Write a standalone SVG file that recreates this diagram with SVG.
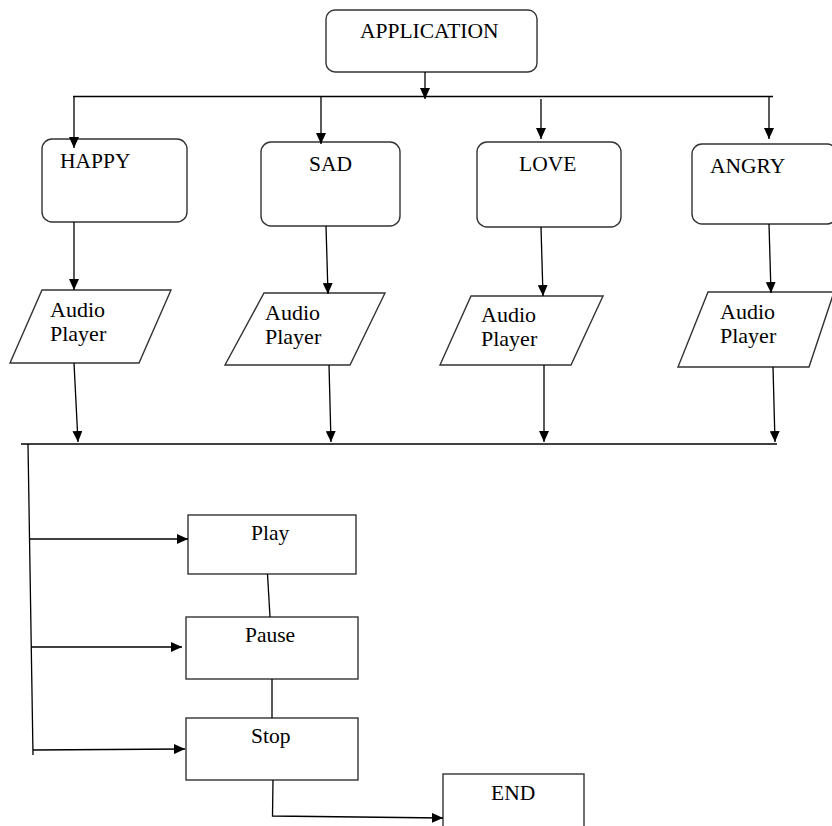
<svg xmlns="http://www.w3.org/2000/svg" width="832" height="826" viewBox="0 0 832 826">
<style>
.box{fill:#fff;stroke:#333;stroke-width:1.4}
.ln{fill:none;stroke:#000;stroke-width:1.3}
.arr{fill:none;stroke:#000;stroke-width:1.3;marker-end:url(#ah)}
.t{font-family:"Liberation Serif","Times New Roman",serif;font-size:21.5px;fill:#000}
.a{font-family:"Liberation Serif","Times New Roman",serif;font-size:22px;fill:#000}
</style>
<defs>
<marker id="ah" markerUnits="userSpaceOnUse" markerWidth="12" markerHeight="10" refX="11" refY="5" orient="auto">
<path d="M0,0 L11,5 L0,10 z" fill="#000"/>
</marker>
</defs>
<rect width="832" height="826" fill="#fff"/>
<g id="application">
<rect class="box" x="326" y="10" width="211" height="62" rx="9"/>
<text class="t" x="360" y="38">APPLICATION</text>
</g>
<g id="happy">
<rect class="box" x="42" y="139" width="145" height="83" rx="10"/>
<text class="t" x="60" y="168">HAPPY</text>
</g>
<g id="sad">
<rect class="box" x="261" y="142" width="139" height="84" rx="10"/>
<text class="t" x="309" y="171">SAD</text>
</g>
<g id="love">
<rect class="box" x="477" y="142" width="144" height="85" rx="10"/>
<text class="t" x="519" y="171">LOVE</text>
</g>
<g id="angry">
<rect class="box" x="692" y="144" width="145" height="80" rx="10"/>
<text class="t" x="710" y="173">ANGRY</text>
</g>
<g id="audio1">
<polygon class="box" points="42,290 171,290 139,363 10,363"/>
<text class="a" x="50" y="317">Audio</text>
<text class="a" x="50" y="341">Player</text>
</g>
<g id="audio2">
<polygon class="box" points="264,293 385,293 350,365 225,365"/>
<text class="a" x="265" y="320">Audio</text>
<text class="a" x="265" y="344">Player</text>
</g>
<g id="audio3">
<polygon class="box" points="471,296 603,296 571,365 440,365"/>
<text class="a" x="481" y="322">Audio</text>
<text class="a" x="481" y="346">Player</text>
</g>
<g id="audio4">
<polygon class="box" points="708,292 834,292 809,367 678,367"/>
<text class="a" x="720" y="319">Audio</text>
<text class="a" x="720" y="343">Player</text>
</g>
<g id="play">
<rect class="box" x="188" y="515" width="168" height="59"/>
<text class="t" x="251" y="540">Play</text>
</g>
<g id="pause">
<rect class="box" x="186" y="617" width="172" height="62"/>
<text class="t" x="245" y="642">Pause</text>
</g>
<g id="stop">
<rect class="box" x="186" y="718" width="172" height="62"/>
<text class="t" x="251" y="743">Stop</text>
</g>
<g id="end">
<rect class="box" x="443" y="774" width="141" height="70"/>
<text class="t" x="491" y="800">END</text>
</g>
<g id="connectors">
<line class="arr" x1="425" y1="72" x2="425" y2="99"/>
<line class="ln" x1="73" y1="96.5" x2="773" y2="96.5"/>
<line class="arr" x1="74" y1="96.5" x2="74" y2="148"/>
<line class="arr" x1="321" y1="96.5" x2="321" y2="144"/>
<line class="arr" x1="541" y1="99" x2="541" y2="139"/>
<line class="arr" x1="769" y1="96.5" x2="769" y2="139"/>
<line class="arr" x1="74" y1="222" x2="74" y2="290"/>
<line class="arr" x1="326" y1="226" x2="328" y2="294"/>
<line class="arr" x1="541" y1="227" x2="543" y2="296"/>
<line class="arr" x1="769" y1="224" x2="771" y2="293"/>
<line class="arr" x1="74" y1="363" x2="78" y2="442"/>
<line class="arr" x1="329" y1="365" x2="331" y2="442"/>
<line class="arr" x1="544" y1="365" x2="544" y2="442"/>
<line class="arr" x1="773" y1="367" x2="775" y2="442"/>
<line class="ln" x1="21" y1="444" x2="777" y2="444"/>
<line class="ln" x1="28" y1="444" x2="33" y2="755"/>
<line class="arr" x1="29" y1="539" x2="188" y2="539"/>
<line class="arr" x1="31" y1="647" x2="182" y2="647"/>
<line class="arr" x1="33" y1="750" x2="185" y2="749"/>
<line class="ln" x1="267.5" y1="574" x2="270" y2="617"/>
<line class="ln" x1="272" y1="679" x2="272" y2="718"/>
<polyline class="arr" points="273,780 272.5,816 443,818"/>
</g>
</svg>
